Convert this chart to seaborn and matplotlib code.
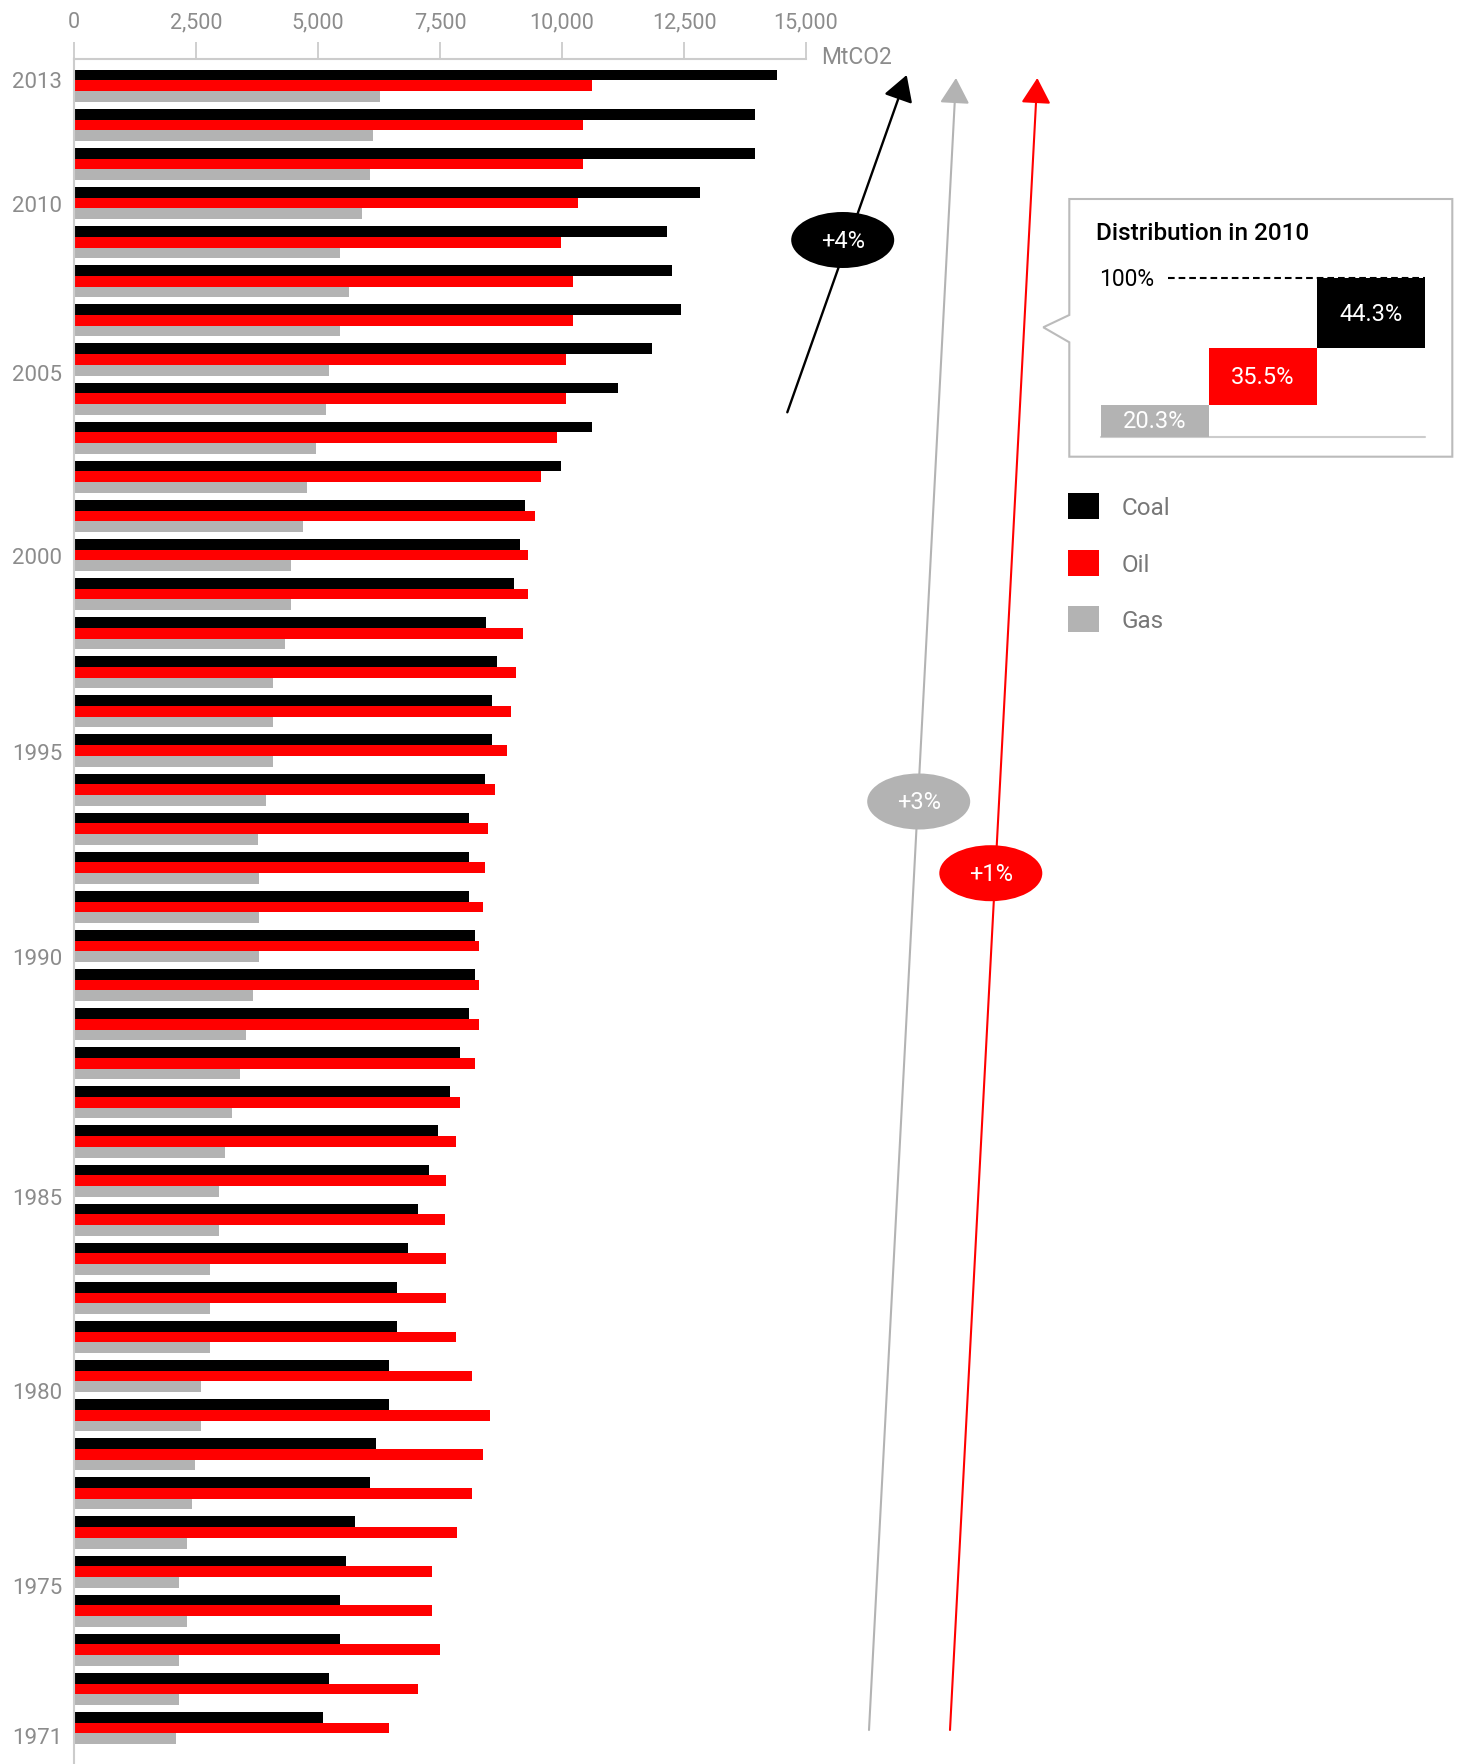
import numpy as np
import pandas as pd
import matplotlib
matplotlib.use("Agg")
import matplotlib.pyplot as plt
import seaborn as sns
from matplotlib.patches import Ellipse, Polygon, FancyArrowPatch

# ---------------- data ----------------
years = list(range(2013, 1970, -1))
coal = [14415, 13958, 13958, 12830, 12150, 12247, 12432, 11839, 11139, 10605, 9982,
        9244, 9137, 9020, 8437, 8670, 8563, 8563, 8418, 8087, 8087, 8087,
        8213, 8213, 8087, 7919, 7698, 7455, 7270, 7055, 6852, 6610, 6610,
        6464, 6464, 6190, 6073, 5762, 5578, 5451, 5451, 5229, 5102]
oil = [10605, 10439, 10439, 10332, 9982, 10235, 10235, 10089, 10089, 9905, 9574,
       9448, 9302, 9302, 9205, 9059, 8952, 8874, 8622, 8486, 8418, 8379,
       8301, 8301, 8301, 8213, 7919, 7822, 7618, 7599, 7618, 7618, 7822,
       8155, 8524, 8379, 8155, 7842, 7327, 7327, 7492, 7055, 6464]
gas = [6279, 6133, 6056, 5910, 5453, 5638, 5453, 5229, 5171, 4957, 4773,
       4695, 4442, 4442, 4325, 4073, 4073, 4073, 3927, 3762, 3791, 3791,
       3791, 3664, 3519, 3411, 3246, 3090, 2964, 2964, 2780, 2780, 2780,
       2595, 2595, 2488, 2410, 2322, 2157, 2322, 2157, 2157, 2099]
fuels = ["Coal", "Oil", "Gas"]
x_ticks = [0, 2500, 5000, 7500, 10000, 12500, 15000]
label_years = [2013, 2010, 2005, 2000, 1995, 1990, 1985, 1980, 1975, 1971]
dist_fuels = ["Gas", "Oil", "Coal"]
dist_2010 = [20.3, 35.5, 44.3]
growth_labels = ["+4%", "+3%", "+1%"]

# ---------------- styles / layout ----------------
colors = {"Coal": "#000000", "Oil": "#ff0000", "Gas": "#b3b3b3"}
label_pos = [-0.17, 2.99, 7.32, 11.99, 17.01, 22.25, 28.39, 33.35, 38.33, 42.17]
TXT = "#8c8c8c"

sns.set_theme(style="white")
plt.rcParams["font.family"] = ["Roboto", "DejaVu Sans"]

W, H = 1458, 1765
fig = plt.figure(figsize=(W / 100, H / 100), dpi=100)
fx = lambda p: p / W
fy = lambda p: 1 - p / H

df = pd.DataFrame({
    "Year": [str(y) for y in years] * 3,
    "Fuel": sum([[f] * len(years) for f in fuels], []),
    "MtCO2": coal + oil + gas,
})

ax = fig.add_axes([fx(74), 0, 732 / W, 1 - 60 / H])
sns.barplot(data=df, y="Year", x="MtCO2", hue="Fuel", hue_order=fuels,
            order=[str(y) for y in years], palette=colors, width=0.82,
            orient="h", errorbar=None, saturation=1, linewidth=0, ax=ax)
ax.set_xlim(0, 15000)
ax.set_ylim(42.92, -0.685)
ax.set_xlabel("")
ax.set_ylabel("")
ax.xaxis.tick_top()
ax.set_xticks(x_ticks)
ax.set_xticklabels([f"{v:,}" for v in x_ticks])
ax.tick_params(axis="x", top=True, bottom=False, length=12.2, width=1.3,
               color="#cccccc", pad=7, labelsize=15.5, labelcolor=TXT)
ax.set_yticks(label_pos)
ax.set_yticklabels([str(y) for y in label_years])
ax.tick_params(axis="y", left=False, length=0, pad=8.6, labelsize=16, labelcolor=TXT)
for s in ["right", "bottom"]:
    ax.spines[s].set_visible(False)
for s in ["top", "left"]:
    ax.spines[s].set_color("#cccccc")
    ax.spines[s].set_linewidth(1.5)

fig.text(fx(821), fy(58), "MtCO2", ha="left", va="center", fontsize=16.5, color=TXT)

# legend
sns.move_legend(ax, "upper left", bbox_to_anchor=(fx(1068), fy(494)),
                bbox_transform=fig.transFigure, frameon=False, title=None,
                fontsize=17.5, labelcolor="#777777", handlelength=1.28,
                handleheight=1.28, labelspacing=1.25, handletextpad=0.92,
                borderpad=0, borderaxespad=0)

# growth arrows
arrows = [((787.3, 413.3), (906.7, 76), "#000000", 1.7),
          ((869, 1731), (956, 79), "#b3b3b3", 1.5),
          ((950, 1731), (1037.3, 79), "#ff0000", 1.5)]
for (a, b, c, lw) in arrows:
    fa = FancyArrowPatch((fx(a[0]), fy(a[1])), (fx(b[0]), fy(b[1])),
                         transform=fig.transFigure,
                         arrowstyle="-|>,head_length=15.8,head_width=9.2",
                         mutation_scale=1, lw=lw, color=c, shrinkA=0, shrinkB=0,
                         zorder=3)
    fig.add_artist(fa)

ell = [((842.7, 241), "#000000"), ((918.7, 802.5), "#b3b3b3"), ((990.8, 874.2), "#ff0000")]
for (c, col), lab in zip(ell, growth_labels):
    e = Ellipse((fx(c[0]), fy(c[1])), 103 / W, 56 / H, transform=fig.transFigure,
                facecolor=col, edgecolor="none", zorder=4)
    fig.add_artist(e)
    fig.text(fx(c[0]), fy(c[1]), lab, ha="center", va="center", color="white",
             fontsize=17, zorder=5)

# inset box with pointer
pts = [(1069.3, 200), (1452.3, 200), (1452.3, 457.7), (1069.3, 457.7),
       (1069.3, 343.3), (1043.3, 328.3), (1069.3, 316)]
poly = Polygon([(fx(x), fy(y)) for x, y in pts], closed=True, transform=fig.transFigure,
               facecolor="white", edgecolor="#bbbbbb", lw=1.5, zorder=0.5)
fig.add_artist(poly)

fig.text(fx(1096), fy(233), "Distribution in 2010", ha="left", va="center",
         fontsize=17.5, weight="medium", color="black", zorder=5)

ax2 = fig.add_axes([fx(1101), fy(437.7), 324 / W, 158.4 / H])
ax2.set_zorder(2)
ax2.patch.set_alpha(0)
bottoms = np.concatenate([[0], np.cumsum(dist_2010)[:-1]])
ax2.bar(range(3), dist_2010, bottom=bottoms, width=1.0,
        color=[colors[f] for f in dist_fuels], linewidth=0, zorder=2)
for i, (v, b) in enumerate(zip(dist_2010, bottoms)):
    ax2.text(i, b + v / 2, f"{v}%", ha="center", va="center", color="white",
             fontsize=17, zorder=3)
ax2.axhline(100, xmin=0.207, xmax=1, color="black", lw=1.5, ls=(0, (3.2, 1.9)),
            clip_on=False, zorder=3)
ax2.axhline(0, color="#cccccc", lw=1.5, clip_on=False, zorder=1)
ax2.set_xlim(-0.5, 2.5)
ax2.set_ylim(0, 100)
ax2.axis("off")
fig.text(fx(1099), fy(279.3), "100%", ha="left", va="center", fontsize=16.5,
         color="black", zorder=5)

fig.savefig("out.png", dpi=100)
